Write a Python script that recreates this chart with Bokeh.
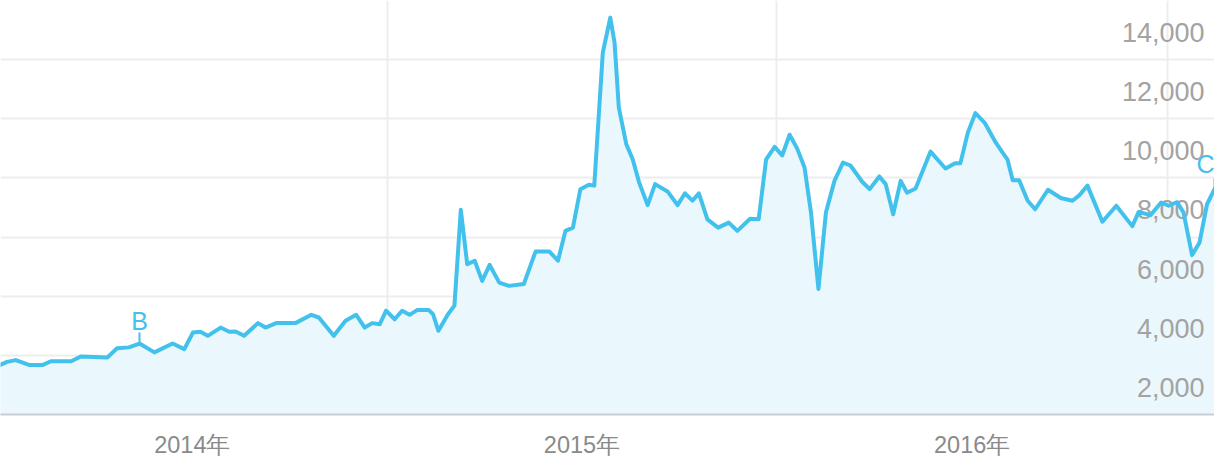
from bokeh.plotting import figure
from bokeh.models import ColumnDataSource, FixedTicker, Range1d
from bokeh.core.properties import value
from bokeh.embed import file_html
from bokeh.resources import INLINE

# days since 2014-01-01 (weekly search interest)
days_since_2014 = [
    -5, 2, 9, 17, 23, 30, 42, 50, 69, 78,
    103, 112, 123, 133, 147, 164, 175, 183, 190, 197,
    209, 217, 223, 231, 244, 251, 261, 279, 294, 301,
    315, 326, 336, 344, 351, 358, 364, 372, 379, 386,
    393, 404, 408, 413, 422, 428, 434, 440, 447, 454,
    461, 470, 479, 493, 504, 517, 525, 532, 539, 546,
    554, 559, 567, 574, 578, 582, 589, 595, 601, 609,
    616, 628, 637, 644, 651, 657, 665, 675, 685, 693,
    705, 713, 720, 728, 735, 742, 749, 756, 762, 769,
    776, 784, 792, 799, 810, 817, 826, 832, 839, 846,
    852, 860, 874, 888, 897, 902, 909, 916, 925, 935,
    942, 946, 951, 957, 965, 972, 984, 996, 1007, 1013,
    1021, 1035, 1048, 1063, 1069, 1080, 1090, 1097, 1105, 1111,
    1119, 1126, 1133, 1140,
]
interest = [
    1670, 1670, 1780, 1840, 1760, 1670, 1670, 1800, 1800, 1960,
    1930, 2240, 2270, 2400, 2100, 2400, 2210, 2770, 2800, 2660,
    2940, 2800, 2810, 2660, 3090, 2940, 3090, 3090, 3370, 3280,
    2660, 3170, 3370, 2940, 3090, 3050, 3510, 3220, 3510, 3370,
    3530, 3530, 3390, 2830, 3390, 3680, 6920, 5080, 5200, 4520,
    5060, 4460, 4350, 4410, 5510, 5510, 5200, 6210, 6320, 7620,
    7770, 7740, 12240, 13420, 12580, 10380, 9140, 8630, 7850, 7080,
    7790, 7530, 7080, 7480, 7230, 7480, 6600, 6320, 6490, 6210,
    6620, 6600, 8630, 9050, 8760, 9460, 9000, 8350, 6830, 4240,
    6830, 7900, 8520, 8420, 7870, 7620, 8050, 7790, 6770, 7900,
    7500, 7640, 8890, 8320, 8500, 8500, 9540, 10190, 9850, 9200,
    8830, 8630, 7920, 7920, 7230, 6940, 7600, 7320, 7230, 7400,
    7740, 6520, 7060, 6370, 6850, 6740, 7170, 7060, 7180, 6830,
    5390, 5820, 7110, 7620,
]

year_labels = ["2014年", "2015年", "2016年"]
year_start_days = [0, 365, 730, 1096]
y_ticks = [2000, 4000, 6000, 8000, 10000, 12000, 14000]
y_tick_labels = ["2,000", "4,000", "6,000", "8,000", "10,000", "12,000", "14,000"]
marker_letters = ["B", "C"]
marker_index = [13, 133]

LINE = "#42c1ec"
FILL = "#eaf7fc"
GRID = "#ededed"

x_end = days_since_2014[-1]
p = figure(width=1214, height=460, output_backend="svg", toolbar_location=None,
           x_range=Range1d(2.8, x_end), y_range=Range1d(0, 14000),
           min_border_left=0, min_border_right=0, min_border_top=0,
           min_border_bottom=46, background_fill_color="white",
           border_fill_color="white", outline_line_color=None)

p.yaxis.visible = False

# year labels centred in each year span
mid_days = [(a + b) / 2 for a, b in zip(year_start_days[:-1], year_start_days[1:])]
p.xaxis.ticker = FixedTicker(ticks=mid_days)
p.xaxis.major_label_overrides = {m: lab for m, lab in zip(mid_days, year_labels)}
p.xaxis.major_tick_line_color = None
p.xaxis.minor_tick_line_color = None
p.xaxis.axis_line_color = "#c9ced4"
p.xaxis.axis_line_width = 2
p.xaxis.major_label_text_color = "#8a8a8a"
p.xaxis.major_label_text_font = "Liberation Sans"
p.xaxis.major_label_text_font_size = "23.5px"
p.xaxis.major_label_standoff = 11

p.xgrid.ticker = FixedTicker(ticks=year_start_days)
p.ygrid.ticker = FixedTicker(ticks=y_ticks)
p.xgrid.grid_line_color = GRID
p.ygrid.grid_line_color = GRID
p.xgrid.grid_line_width = 2
p.ygrid.grid_line_width = 2

src = ColumnDataSource(dict(x=days_since_2014, y=interest))
p.varea(x="x", y1=0, y2="y", source=src, fill_color=FILL)

lab_src = ColumnDataSource(dict(x=[x_end] * len(y_ticks), y=y_ticks, t=y_tick_labels))
p.text(x="x", y="y", text="t", source=lab_src, text_align="right",
       text_baseline="middle", x_offset=-10, y_offset=32,
       text_color="#a3a3a3", text_font=value("Liberation Sans"),
       text_font_size="27px")

p.line(x="x", y="y", source=src, line_color=LINE, line_width=4,
       line_join="round", line_cap="round")

# marker letters with small stems
px_per_unit = 414 / 14000
stem = 11 / px_per_unit
mx = [days_since_2014[i] for i in marker_index]
my = [interest[i] for i in marker_index]
p.segment(x0=mx, y0=my, x1=mx, y1=[v + stem for v in my], line_color=LINE, line_width=2)
p.text(x=[mx[0]], y=[my[0]], text=[marker_letters[0]], text_align="center",
       text_baseline="middle", y_offset=-23, text_color=LINE,
       text_font=value("Liberation Sans"), text_font_size="25px")
p.text(x=[mx[1]], y=[my[1]], text=[marker_letters[1]], text_align="right",
       text_baseline="middle", y_offset=-25, text_color=LINE,
       text_font=value("Liberation Sans"), text_font_size="25px")

open("out.html", "w").write(file_html(p, INLINE))
